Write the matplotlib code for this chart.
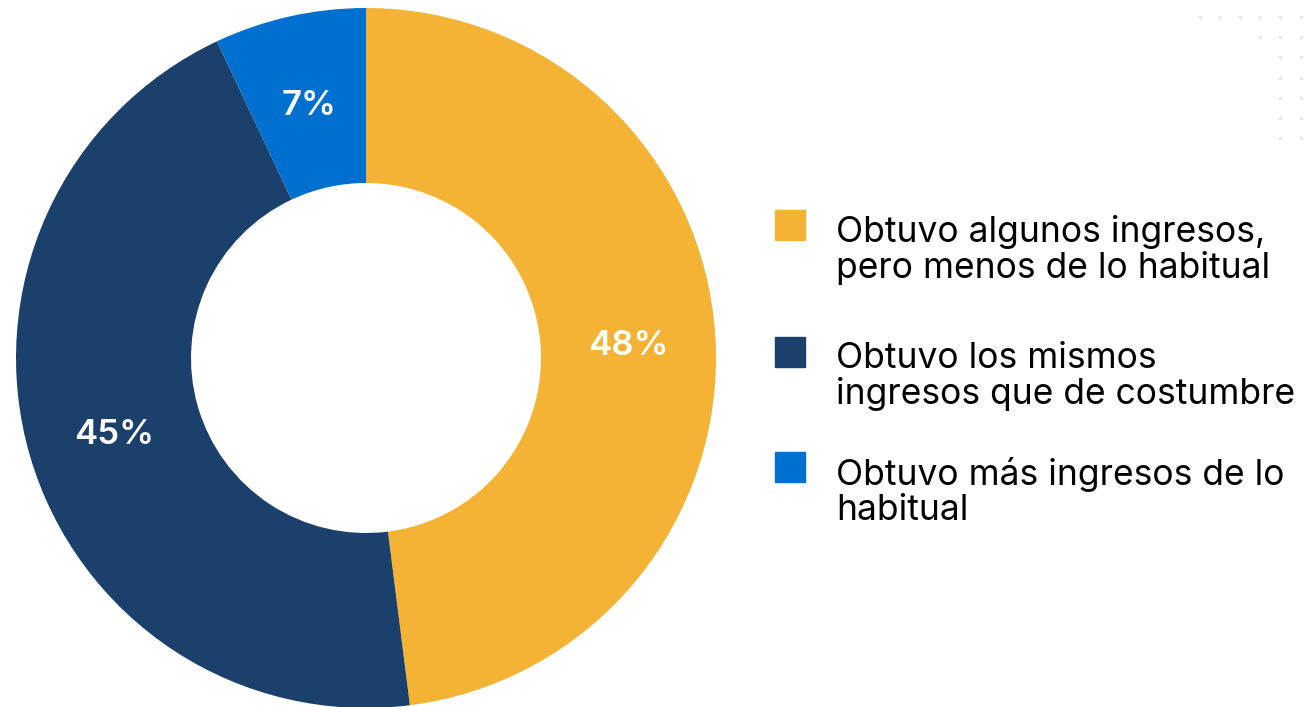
import matplotlib.pyplot as plt
from matplotlib.patches import Rectangle

categorias = [
    'Obtuvo algunos ingresos,\npero menos de lo habitual',
    'Obtuvo los mismos\ningresos que de costumbre',
    'Obtuvo más ingresos de lo\nhabitual',
]
valores = [48, 45, 7]
colores = ['#F4B335', '#1B406B', '#0070D0']

W, H = 1309, 707
fig = plt.figure(figsize=(W / 100, H / 100), dpi=100)
fig.patch.set_facecolor('white')

# dona
cx, cy, r = 366, 358, 350
ax = fig.add_axes([(cx - r) / W, (H - cy - r) / H, 2 * r / W, 2 * r / H])
wedges, textos, pcts = ax.pie(
    valores, colors=colores, startangle=90, counterclock=False,
    radius=1, wedgeprops=dict(width=0.5, linewidth=0),
    autopct='%d%%', pctdistance=0.75,
    textprops=dict(color='white', fontsize=25, fontweight='semibold', family='Inter'),
)
# bajar un poco las etiquetas
for t in pcts:
    x, y = t.get_position()
    t.set_position((x, y - 0.012))
ax.set_xlim(-1, 1)
ax.set_ylim(-1, 1)
ax.set_aspect('equal')
ax.axis('off')

# leyenda
tops = [210, 337, 452]
for i in range(len(categorias)):
    fig.patches.append(Rectangle((775 / W, 1 - (tops[i] + 30) / H), 30 / W, 30 / H,
                                 transform=fig.transFigure, color=colores[i], figure=fig))
    fig.text(836 / W, 1 - (tops[i] + 5) / H, categorias[i], fontsize=25.5, family='Inter',
             va='top', ha='left', color='black', linespacing=1.08)

# puntos decorativos
puntos_x = [1200, 1220, 1240, 1260, 1280, 1301, 1260, 1280, 1301] + [1280, 1301] * 5
puntos_y = [17] * 6 + [37] * 3 + [57, 57, 78, 78, 98, 98, 118, 118, 138, 138]
deco = fig.add_axes([0, 0, 1, 1])
deco.set_xlim(0, W)
deco.set_ylim(H, 0)
deco.axis('off')
deco.scatter(puntos_x, puntos_y, s=6, color='#e6e6e6', linewidths=0)

fig.savefig('out.png', dpi=100)
